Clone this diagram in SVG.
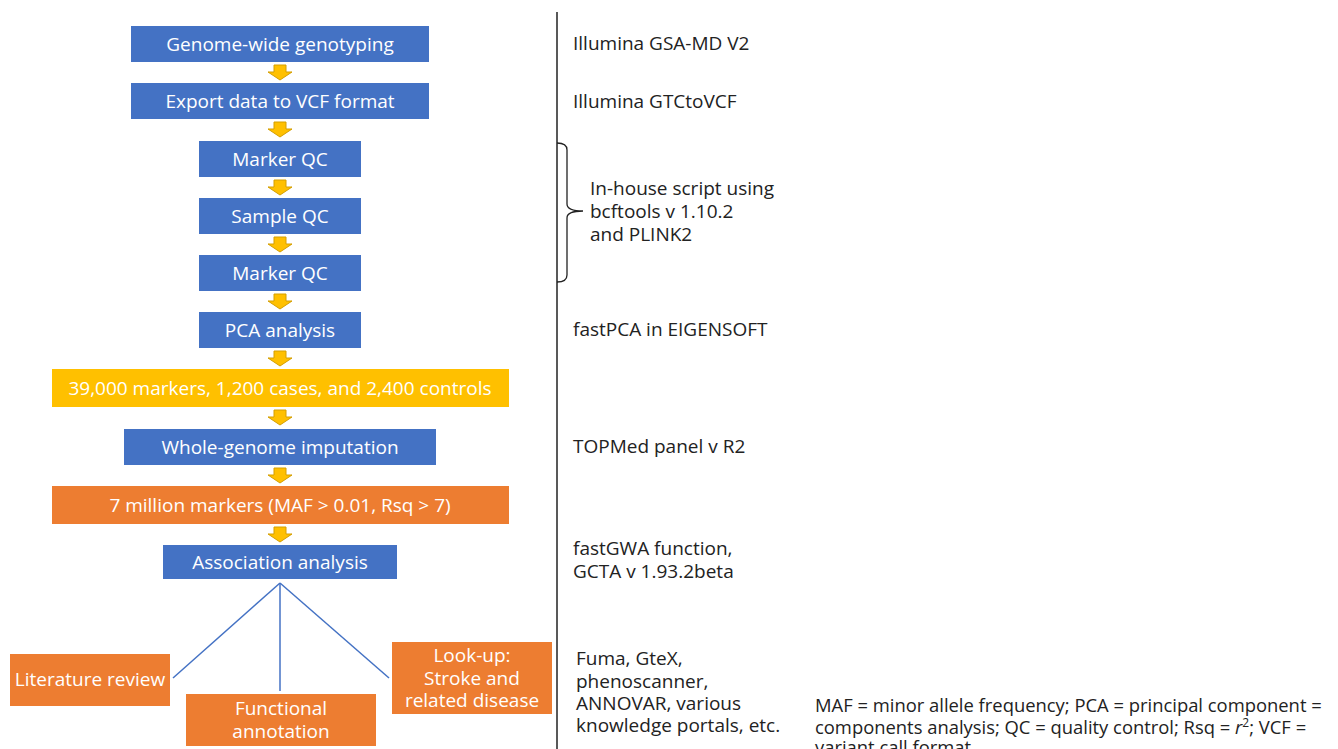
<svg xmlns="http://www.w3.org/2000/svg" width="1338" height="749" viewBox="0 0 1338 749">
<style>
  .blue{fill:#4472C4;}
  .orange{fill:#ED7D31;}
  .yellow{fill:#FFC000;}
  .bt{font-family:"Open Sans","Liberation Sans",sans-serif;font-size:19px;fill:#ffffff;text-anchor:middle;}
  .rt{font-family:"Open Sans","Liberation Sans",sans-serif;font-size:19px;fill:#222222;}
  .fn{font-family:"Open Sans","Liberation Sans",sans-serif;font-size:18.4px;fill:#222222;}
  .conn{stroke:#4472C4;stroke-width:1.5;fill:none;}
  .arr{fill:#FFC000;stroke:#D49E00;stroke-width:1;}
</style>
<defs>
  <path id="dnarrow" class="arr" d="M-6,0 H6 V7 H12 L0,15 L-12,7 H-6 Z"/>
</defs>
<rect width="1338" height="749" fill="#ffffff"/>

<g id="connectors">
  <use href="#dnarrow" x="280" y="65"/>
  <use href="#dnarrow" x="280" y="122"/>
  <use href="#dnarrow" x="280" y="180"/>
  <use href="#dnarrow" x="280" y="237"/>
  <use href="#dnarrow" x="280" y="294"/>
  <use href="#dnarrow" x="280" y="351"/>
  <use href="#dnarrow" x="280" y="410"/>
  <use href="#dnarrow" x="280" y="468"/>
  <use href="#dnarrow" x="280" y="527"/>
  <line class="conn" x1="280" y1="583" x2="173" y2="678"/>
  <line class="conn" x1="280" y1="583" x2="280" y2="691"/>
  <line class="conn" x1="280" y1="583" x2="389" y2="678"/>
</g>

<g id="n1"><rect class="blue" x="131" y="26" width="298" height="36"/><text class="bt" x="280" y="51">Genome-wide genotyping</text></g>
<g id="n2"><rect class="blue" x="131" y="83" width="298" height="36"/><text class="bt" x="280" y="108">Export data to VCF format</text></g>
<g id="n3"><rect class="blue" x="199" y="141" width="162" height="36"/><text class="bt" x="280" y="166">Marker QC</text></g>
<g id="n4"><rect class="blue" x="199" y="198" width="162" height="36"/><text class="bt" x="280" y="223">Sample QC</text></g>
<g id="n5"><rect class="blue" x="199" y="255" width="162" height="36"/><text class="bt" x="280" y="280">Marker QC</text></g>
<g id="n6"><rect class="blue" x="199" y="312" width="162" height="36"/><text class="bt" x="280" y="337">PCA analysis</text></g>
<g id="n7"><rect class="yellow" x="52" y="369" width="457" height="38"/><text class="bt" x="280" y="395">39,000 markers, 1,200 cases, and 2,400 controls</text></g>
<g id="n8"><rect class="blue" x="124" y="429" width="312" height="36"/><text class="bt" x="280" y="454">Whole-genome imputation</text></g>
<g id="n9"><rect class="orange" x="52" y="486" width="457" height="38"/><text class="bt" x="280" y="512">7 million markers (MAF &gt; 0.01, Rsq &gt; 7)</text></g>
<g id="n10"><rect class="blue" x="163" y="545" width="234" height="34"/><text class="bt" x="280" y="569">Association analysis</text></g>
<g id="n11"><rect class="orange" x="10" y="654" width="160" height="52"/><text class="bt" x="90" y="686">Literature review</text></g>
<g id="n12"><rect class="orange" x="186" y="694" width="190" height="52"/><text class="bt" x="281" y="715">Functional<tspan x="281" dy="23">annotation</tspan></text></g>
<g id="n13"><rect class="orange" x="392" y="642" width="160" height="72"/><text class="bt" x="472" y="662">Look-up:<tspan x="472" dy="23">Stroke and</tspan><tspan x="472" dy="22">related disease</tspan></text></g>

<g id="divider">
  <line x1="557" y1="12" x2="557" y2="749" stroke="#222222" stroke-width="1.5"/>
  <path d="M557,143 Q567,143 567,150 V204 Q567,211 583,211 Q567,211 567,218 V275 Q567,282 557,282" fill="none" stroke="#222222" stroke-width="1.3"/>
</g>

<g id="tools">
  <text class="rt" x="573" y="50">Illumina GSA-MD V2</text>
  <text class="rt" x="573" y="108">Illumina GTCtoVCF</text>
  <text class="rt" x="590" y="195">In-house script using<tspan x="590" dy="23">bcftools v 1.10.2</tspan><tspan x="590" dy="23">and PLINK2</tspan></text>
  <text class="rt" x="573" y="336">fastPCA in EIGENSOFT</text>
  <text class="rt" x="573" y="453">TOPMed panel v R2</text>
  <text class="rt" x="573" y="555">fastGWA function,<tspan x="573" dy="23">GCTA v 1.93.2beta</tspan></text>
  <text class="rt" x="576" y="665">Fuma, GteX,<tspan x="576" dy="23">phenoscanner,</tspan><tspan x="576" dy="22">ANNOVAR, various</tspan><tspan x="576" dy="22">knowledge portals, etc.</tspan></text>
</g>

<g id="footnote">
  <text class="fn" x="815" y="712">MAF = minor allele frequency; PCA = principal component =<tspan x="815" dy="22">components analysis; QC = quality control; Rsq = </tspan><tspan font-style="italic">r</tspan><tspan dy="-7" font-size="12">2</tspan><tspan dy="7">; VCF =</tspan><tspan x="815" dy="20">variant call format.</tspan></text>
</g>
</svg>
